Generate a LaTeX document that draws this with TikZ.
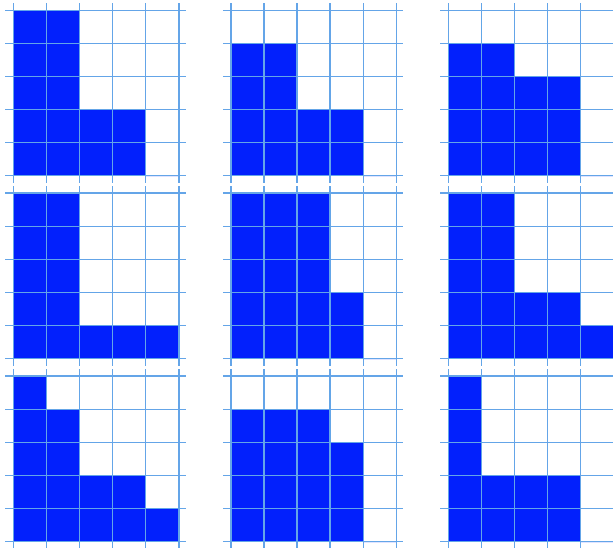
\documentclass[tikz,border=0pt]{standalone}
\definecolor{cellblue}{RGB}{2,32,252}
\definecolor{gridblue}{RGB}{100,165,232}
\begin{document}
\begin{tikzpicture}[x=1pt,y=-1pt,
  gridline/.style={draw=gridblue,line width=1.4pt},
  cellfill/.style={fill=cellblue}]
\useasboundingbox (0,0) rectangle (613,548);
\clip (0,0) rectangle (613,548);
\def\cs{33.1}
\foreach \i/\j/\ha/\hb/\hc/\hd/\he in {
  0/0/5/5/2/2/0, 0/1/4/4/2/2/0, 0/2/4/4/3/3/0,
  1/0/5/5/1/1/1, 1/1/5/5/5/2/0, 1/2/5/5/2/2/1,
  2/0/5/4/2/2/1, 2/1/4/4/4/3/0, 2/2/5/2/2/2/0}{
  \pgfmathsetmacro\X{13.3+217.5*\j}
  \pgfmathsetmacro\Y{10.3+182.9*\i}
  \foreach \k/\h in {1/\ha,2/\hb,3/\hc,4/\hd,5/\he}{
    \fill[cellfill] ({\X+(\k-1)*\cs},{\Y+5*\cs}) rectangle ({\X+\k*\cs},{\Y+(5-\h)*\cs});
  }
  \foreach \m in {0,...,5}{
    \draw[gridline] ({\X-8},{\Y+\m*\cs}) -- ({\X+5*\cs+7},{\Y+\m*\cs});
    \draw[gridline] ({\X+\m*\cs},{\Y-7}) -- ({\X+\m*\cs},{\Y+5*\cs+7});
  }
}
\end{tikzpicture}
\end{document}
